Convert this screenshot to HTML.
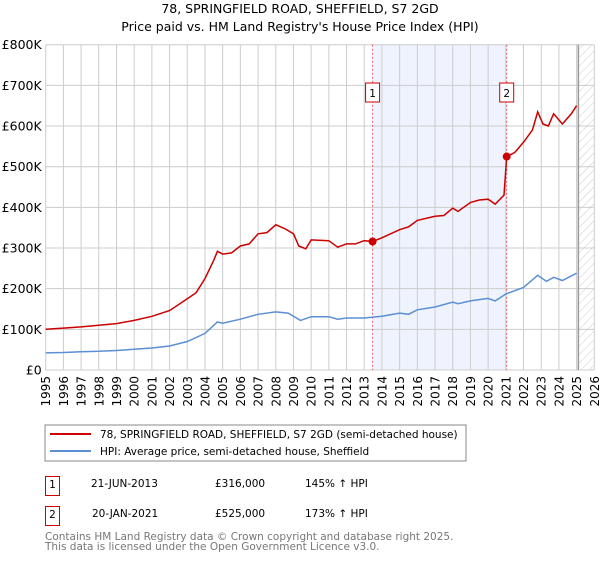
<!DOCTYPE html>
<html><head><meta charset="utf-8"><style>
body{margin:0;background:#fff;font-family:"DejaVu Sans","Liberation Sans",sans-serif;}
svg text{font-family:"DejaVu Sans","Liberation Sans",sans-serif;}
</style></head><body>
<svg id="chart" width="600" height="560" xmlns="http://www.w3.org/2000/svg">
<defs><pattern id="hatch" width="6" height="6" patternUnits="userSpaceOnUse" patternTransform="rotate(45)"><line x1="0" y1="0" x2="0" y2="6" stroke="#ccc" stroke-width="1"/></pattern></defs>
<text x="300" y="13" text-anchor="middle" font-size="12.5" fill="#000">78, SPRINGFIELD ROAD, SHEFFIELD, S7 2GD</text>
<text x="300" y="31" text-anchor="middle" font-size="12.5" fill="#000">Price paid vs. HM Land Registry's House Price Index (HPI)</text>
<g id="grid"></g><g id="marks"></g><g id="axes"></g>
<rect x="45" y="425" width="421" height="36" fill="#fff" stroke="#888"/>
<line x1="50" y1="434" x2="91" y2="434" stroke="#cc0000" stroke-width="2"/>
<text x="100" y="438" font-size="10.5">78, SPRINGFIELD ROAD, SHEFFIELD, S7 2GD (semi-detached house)</text>
<line x1="50" y1="451" x2="91" y2="451" stroke="#5b8fd4" stroke-width="2"/>
<text x="100" y="455" font-size="10.5">HPI: Average price, semi-detached house, Sheffield</text>
<g>
<rect x="45.5" y="476.5" width="14" height="19" fill="#fff" stroke="#cc0000"/>
<text x="52.5" y="488" text-anchor="middle" font-size="10.5">1</text>
<text x="91" y="487" font-size="10.5">21-JUN-2013</text>
<text x="215" y="487" font-size="10.5">£316,000</text>
<text x="305" y="487" font-size="10.5">145% ↑ HPI</text></g>
<g>
<rect x="45.5" y="506.5" width="14" height="19" fill="#fff" stroke="#cc0000"/>
<text x="52.5" y="518" text-anchor="middle" font-size="10.5">2</text>
<text x="92" y="517" font-size="10.5">20-JAN-2021</text>
<text x="215" y="517" font-size="10.5">£525,000</text>
<text x="305" y="517" font-size="10.5">173% ↑ HPI</text></g>
<text x="45" y="540" font-size="10.5" fill="#777">Contains HM Land Registry data © Crown copyright and database right 2025.</text>
<text x="45" y="550" font-size="10.5" fill="#777">This data is licensed under the Open Government Licence v3.0.</text>
</svg>
<script>
const yearTicks=[1995,1996,1997,1998,1999,2000,2001,2002,2003,2004,2005,2006,2007,2008,2009,2010,2011,2012,2013,2014,2015,2016,2017,2018,2019,2020,2021,2022,2023,2024,2025,2026];
const valueTicks=[0,100,200,300,400,500,600,700,800];
const valueLabels=["£0","£100K","£200K","£300K","£400K","£500K","£600K","£700K","£800K"];
const hpiYears=[1995,1996,1997,1998,1999,2000,2001,2002,2003,2004,2004.7,2005,2006,2007,2008,2008.7,2009.4,2010,2011,2011.5,2012,2013,2014,2015,2015.5,2016,2017,2018,2018.3,2019,2020,2020.4,2021,2022,2022.8,2023.3,2023.7,2024.2,2025];
const hpiValues=[42,43,45,46,48,51,54,59,70,90,118,115,125,137,143,140,122,131,131,125,128,128,132,140,137,148,155,167,163,170,176,170,187,203,233,218,228,220,238];
const redYears=[1995,1996,1997,1998,1999,2000,2001,2002,2003,2003.5,2004,2004.5,2004.7,2005,2005.5,2006,2006.5,2007,2007.5,2008,2008.5,2009,2009.3,2009.7,2010,2011,2011.5,2012,2012.5,2013,2013.47,2014,2015,2015.5,2016,2017,2017.5,2018,2018.3,2019,2019.5,2020,2020.4,2020.9,2021.05,2021.5,2022,2022.5,2022.8,2023.1,2023.4,2023.7,2024.2,2024.7,2025];
const redValues=[100,103,106,110,114,122,132,146,175,190,225,270,292,285,288,305,310,335,338,357,348,335,305,298,320,318,302,310,310,318,316,325,345,352,368,378,380,398,390,412,418,420,408,430,525,535,560,590,635,605,600,630,605,630,650];
const saleYears=[2013.47,2021.05];
const saleValues=[316,525];
const saleLabels=["1","2"];
const X0=45.7,X1=594.3,Y0=370,Y1=44.7;
const xs=y=>X0+(y-1995)/(2026-1995)*(X1-X0);
const ys=v=>Y0-v/800*(Y0-Y1);
const NS="http://www.w3.org/2000/svg";
function mk(p,t,a){const e=document.createElementNS(NS,t);for(const k in a)e.setAttribute(k,a[k]);p.appendChild(e);return e;}
const grid=document.getElementById('grid'),marks=document.getElementById('marks'),axes=document.getElementById('axes');
const shade=mk(grid,'rect',{x:xs(saleYears[0]),y:Y1,width:xs(saleYears[1])-xs(saleYears[0]),height:Y0-Y1,fill:'#eef3fd'});


const hatch=mk(grid,'rect',{x:xs(2025.1),y:Y1,width:X1-xs(2025.1),height:Y0-Y1,fill:'url(#hatch)'});


yearTicks.forEach(y=>{const l=mk(grid,'line',{x1:xs(y),x2:xs(y),y1:Y1,y2:Y0,stroke:'#ccc'});


const t=mk(axes,'text',{x:0,y:0,'font-size':12,'text-anchor':'end',transform:`translate(${xs(y)+4.5},${Y0+6}) rotate(-90)`});t.textContent=y;

});
valueTicks.forEach((v,i)=>{const l=mk(grid,'line',{x1:X0,x2:X1,y1:ys(v),y2:ys(v),stroke:'#ccc'});


const t=mk(axes,'text',{x:X0-4,y:ys(v)+4.5,'font-size':12.5,'text-anchor':'end'});t.textContent=valueLabels[i];

});
const dl=mk(grid,'line',{x1:xs(2025.1),x2:xs(2025.1),y1:Y1,y2:Y0,stroke:'#999','stroke-width':1.5});


saleYears.forEach((y,i)=>{const l=mk(grid,'line',{x1:xs(y),x2:xs(y),y1:Y1,y2:Y0,stroke:'#e06070','stroke-dasharray':'2,2'});


const r=mk(axes,'rect',{x:xs(y)-7,y:83,width:14,height:19,fill:'#fff',stroke:'#cc0000'});


const t=mk(axes,'text',{x:xs(y),y:97,'font-size':10.5,'text-anchor':'middle'});t.textContent=saleLabels[i];

});
const hp=mk(marks,'path',{d:hpiYears.map((y,i)=>(i?'L':'M')+xs(y).toFixed(1)+','+ys(hpiValues[i]).toFixed(1)).join(''),fill:'none',stroke:'#5b8fd4','stroke-width':1.5});


const rp=mk(marks,'path',{d:redYears.map((y,i)=>(i?'L':'M')+xs(y).toFixed(1)+','+ys(redValues[i]).toFixed(1)).join(''),fill:'none',stroke:'#cc0000','stroke-width':1.5});


saleYears.forEach((y,i)=>{const c=mk(marks,'circle',{cx:xs(y),cy:ys(saleValues[i]),r:4,fill:'#cc0000'});

});
</script>
</body></html>
